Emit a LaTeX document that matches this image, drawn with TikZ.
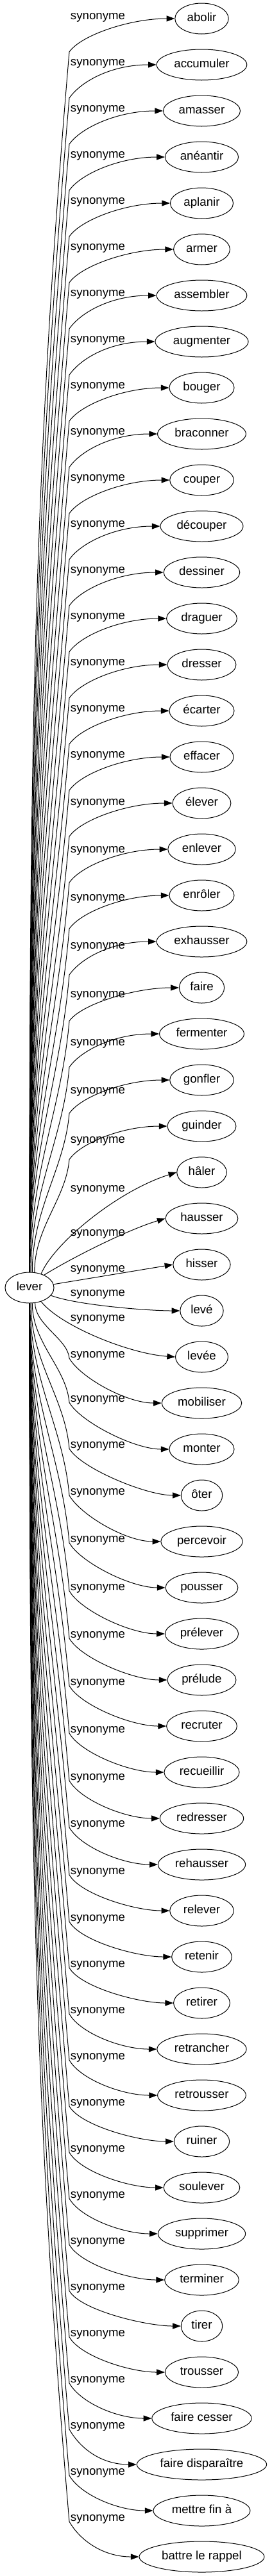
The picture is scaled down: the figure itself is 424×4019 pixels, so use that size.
\documentclass[tikz,border=0pt]{standalone}
\usepackage{fontspec}
\setmainfont{Liberation Sans}
\usetikzlibrary{arrows.meta,shapes.geometric}
\begin{document}
\begin{tikzpicture}[x=0.75pt,y=-0.75pt,
  syn/.style={draw, ellipse, line width=0.75pt, minimum height=36pt, inner xsep=5pt, inner ysep=0pt,
    font=\fontsize{14}{16}\selectfont, text height=10pt, text depth=3pt},
  lab/.style={font=\fontsize{14}{16}\selectfont, inner sep=0pt, text height=10pt, text depth=3pt},
  edge/.style={line width=0.75pt, -{Triangle[length=9.5pt,width=6.8pt]}}]
\useasboundingbox (0,0) rectangle (424,4019);
\node[syn] (lever) at (46,2009) {lever};
\foreach \t [count=\i] in {abolir, accumuler, amasser, anéantir, aplanir, armer, assembler, augmenter, bouger, braconner, couper, découper, dessiner, draguer, dresser, écarter, effacer, élever, enlever, enrôler, exhausser, faire, fermenter, gonfler, guinder, hâler, hausser, hisser, levé, levée, mobiliser, monter, ôter, percevoir, pousser, prélever, prélude, recruter, recueillir, redresser, rehausser, relever, retenir, retirer, retrancher, retrousser, ruiner, soulever, supprimer, terminer, tirer, trousser, faire cesser, faire disparaître, mettre fin à, battre le rappel}
  {\node[syn] (n\i) at (314.5,{29+72*(\i-1)}) {\t};}
\foreach \i/\o in {1/-3,2/-3,3/-3,4/-3,5/-3,6/-3,7/-3,8/-3,9/-3,10/-3,11/-3,12/-3,13/-3,14/-3,15/-3,16/-3,17/-3,18/-1,19/1,20/4,21/7,22/11,23/14,24/17,25/22,26/26,27/23,28/7,29/-27,30/-60,31/-75,32/-78,33/-78,34/-77,35/-75,36/-72,37/-70,38/-68,39/-66,40/-64,41/-63,42/-61,43/-60,44/-60,45/-60,46/-60,47/-60,48/-60,49/-60,50/-60,51/-60,52/-60,53/-60,54/-60,55/-60,56/-60}
  {\node[lab] (l\i) at (152.5,{29+72*(\i-1)+\o}) {synonyme};}
% upper edges
\foreach \i/\a in {1/90,2/90,3/90,4/90,5/90,6/90,7/90,8/90,9/90,10/90,11/90,12/90,13/90,14/90,15/90,16/90,17/90,18/90,19/90,20/90,21/90,22/88,23/85,24/80,25/72}{
  \pgfmathsetmacro\c{29+72*(\i-1)+52}
  \pgfmathsetmacro\D{1985-\c}
  \draw[edge] (lever.\a) .. controls +(0,{-0.4*\D}) and +({-0.03*\D},{0.35*\D}) .. (108,\c)
     .. controls +(18,-26) and +(-70,0) .. (n\i.west);
}
\draw[edge] (lever.50) .. controls +(20,-48) and +(-92,29) .. (n26.west);
\draw[edge] (lever.41) .. controls +(40,-25) and +(-60,18) .. (n27.west);
\draw[edge] (lever.8) -- (n28.west);
\draw[edge] (lever.340) .. controls +(40,15) and +(-50,0) .. (n29.west);
\draw[edge] (lever.310) .. controls +(30,38) and +(-72,-5) .. (n30.west);
% lower edges
\foreach \i/\o/\a in {31/-75/290,32/-78/280,33/-78/275,34/-77/272,35/-75/270,36/-72/270,37/-70/270,38/-68/270,39/-66/270,40/-64/270,41/-63/270,42/-61/270,43/-60/270,44/-60/270,45/-60/270,46/-60/270,47/-60/270,48/-60/270,49/-60/270,50/-60/270,51/-60/270,52/-60/270,53/-60/270,54/-60/270,55/-60/270,56/-60/270}{
  \pgfmathsetmacro\c{29+72*(\i-1)+\o+5}
  \pgfmathsetmacro\D{\c-2033}
  \draw[edge] (lever.\a) .. controls +(0,{0.4*\D}) and +({-0.03*\D},{-0.35*\D}) .. (108,\c)
     .. controls +(17,30) and +(-55,0) .. (n\i.west);
}
\end{tikzpicture}
\end{document}
